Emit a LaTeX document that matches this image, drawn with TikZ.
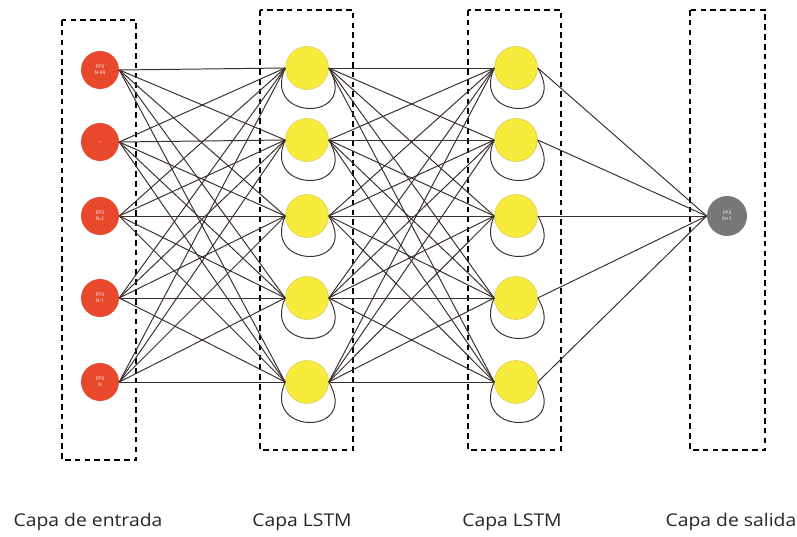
\documentclass[tikz,border=0pt]{standalone}
\usepackage{fontspec}
\setmainfont{Open Sans}
\usepackage{xcolor}
\definecolor{entrada}{HTML}{E8482B}
\definecolor{lstm}{HTML}{F7EC3C}
\definecolor{lstmborde}{HTML}{D8CB5A}
\definecolor{salida}{HTML}{777777}
\definecolor{enlace}{HTML}{3B2F2F}

\tikzset{
  inp/.style={circle, fill=entrada, minimum size=38\unitlength, inner sep=0pt, text=white, font=\fontsize{3.5}{4}\selectfont, align=center},
  cell/.style={circle, fill=lstm, draw=lstmborde, thin, minimum size=43\unitlength, inner sep=0pt},
  outp/.style={circle, fill=salida, minimum size=40\unitlength, inner sep=0pt, text=white, font=\fontsize{3.5}{4}\selectfont, align=center},
  layerbox/.style={draw=black, dashed, thick, dash pattern=on 4pt off 3pt},
  link/.style={draw=enlace, line width=0.7pt},
  layername/.style={font=\fontsize{12.5}{14}\selectfont, text=black!85, xscale=1.1}
}
\setlength{\unitlength}{0.025cm}

\begin{document}
\begin{tikzpicture}[x=0.025cm, y=-0.025cm]
    \useasboundingbox (0,0) rectangle (797,537);
    % cajas de capas
    \draw [layerbox] (62,20) rectangle (136,460);
    \draw [layerbox] (260,10) rectangle (353,450);
    \draw [layerbox] (468,10) rectangle (561,450);
    \draw [layerbox] (690,10) rectangle (765,450);
    % neuronas
    \node [inp] (e1) at (100,70) {FP3\\N-99};
    \node [inp] (e2) at (100,142) {...};
    \node [inp] (e3) at (100,216) {FP3\\N-2};
    \node [inp] (e4) at (100,298) {FP3\\N-1};
    \node [inp] (e5) at (100,382) {FP3\\N};
    \foreach \i/\y in {1/68, 2/140, 3/216, 4/298, 5/382} {
      \node [cell] (a\i) at (307,\y) {};
      \node [cell] (b\i) at (516,\y) {};
    }
    \node [outp] (s) at (727,216) {FP3\\N+1};
    % conexiones
    \foreach \i in {1,...,5} {
      \foreach \j in {1,...,5} {
        \draw [link] (e\i.east) -- (a\j.west);
        \draw [link] (a\i.east) -- (b\j.west);
      }
      \draw [link] (b\i.east) -- (s.west);
      % recurrencia
      \draw [link] (a\i.west) .. controls +(-24,54) and +(32,54) .. (a\i.east);
      \draw [link] (b\i.west) .. controls +(-24,54) and +(32,54) .. (b\i.east);
    }
    % nombres de capas
    \node [layername] (n1) at (88,522) {Capa de entrada};
    \node [layername] (n2) at (302,522) {Capa LSTM};
    \node [layername] (n3) at (512,522) {Capa LSTM};
    \node [layername] (n4) at (731,522) {Capa de salida};
\end{tikzpicture}
\end{document}
